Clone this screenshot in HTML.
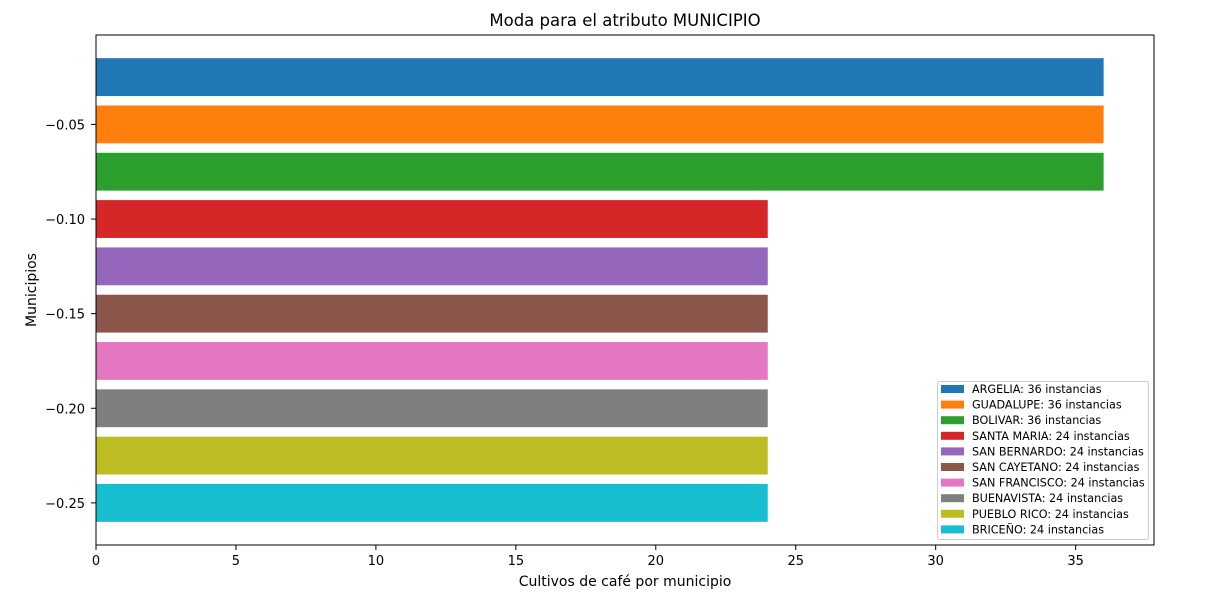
<!DOCTYPE html>
<html><head><meta charset="utf-8"><style>
body{margin:0;background:#fff;font-family:"Liberation Sans","DejaVu Sans",sans-serif;}
svg text{font-family:"DejaVu Sans","Liberation Sans",sans-serif;}
</style></head><body>
<svg id="chart" width="1205" height="602" xmlns="http://www.w3.org/2000/svg">
<rect width="1205" height="602" fill="#fff"/>
</svg>
<script>
const categories=["ARGELIA","GUADALUPE","BOLIVAR","SANTA MARIA","SAN BERNARDO","SAN CAYETANO","SAN FRANCISCO","BUENAVISTA","PUEBLO RICO","BRICEÑO"];
const values=[36,36,36,24,24,24,24,24,24,24];
const positions=[-0.025,-0.05,-0.075,-0.1,-0.125,-0.15,-0.175,-0.2,-0.225,-0.25];
const colors=["#1f77b4","#ff7f0e","#2ca02c","#d62728","#9467bd","#8c564b","#e377c2","#7f7f7f","#bcbd22","#17becf"];
const xTicks=[0,5,10,15,20,25,30,35];
const yTicks=[-0.05,-0.10,-0.15,-0.20,-0.25];
const yTickLabels=["\u22120.05","\u22120.10","\u22120.15","\u22120.20","\u22120.25"];

const L=96,R=1154,T=35,B=545;
const xMax=37.8,yTop=-0.00275,yBot=-0.27225,barH=0.02;
const sx=v=>L+(v/xMax)*(R-L);
const sy=v=>T+(yTop-v)/(yTop-yBot)*(B-T);
const svg=document.getElementById('chart');
const NS="http://www.w3.org/2000/svg";
function mk(tag,attrs,parent){const e=document.createElementNS(NS,tag);for(const k in attrs)e.setAttribute(k,attrs[k]);(parent||svg).appendChild(e);return e;}

categories.forEach((c,i)=>{
  const y1=sy(positions[i]+barH/2),y2=sy(positions[i]-barH/2);
  const r=mk('rect',{x:sx(0),y:y1,width:sx(values[i])-sx(0),height:y2-y1,fill:colors[i]});
  
  
});
const frame=mk('rect',{x:L,y:T,width:R-L,height:B-T,fill:'none',stroke:'#000','stroke-width':1});



xTicks.forEach(t=>{
  const x=sx(t);
  mk('line',{x1:x,x2:x,y1:B,y2:B+5,stroke:'#000'});
  const tx=mk('text',{x:x,y:B+20,'font-size':13,'text-anchor':'middle'});tx.textContent=t;
  
  
});
yTicks.forEach((t,i)=>{
  const y=sy(t);
  mk('line',{x1:L-5,x2:L,y1:y,y2:y,stroke:'#000'});
  const tx=mk('text',{x:L-11,y:y+5,'font-size':13,'text-anchor':'end'});tx.textContent=yTickLabels[i];
  
  
});
const title=mk('text',{x:(L+R)/2,y:26,'font-size':16.5,'text-anchor':'middle'});title.textContent='Moda para el atributo MUNICIPIO';


const xt=mk('text',{x:(L+R)/2,y:586,'font-size':14,'text-anchor':'middle'});xt.textContent='Cultivos de café por municipio';


const yt=mk('text',{x:36,y:(T+B)/2,'font-size':14,'text-anchor':'middle',transform:`rotate(-90 36 ${(T+B)/2})`});yt.textContent='Municipios';



const lg=mk('g',{});


mk('rect',{x:937.5,y:381.5,width:211,height:158,rx:2,fill:'#fff','fill-opacity':0.8,stroke:'#ccc'},lg);
categories.forEach((c,i)=>{
  const y=389+i*15.6;
  const g=mk('g',{},lg);
  
  
  mk('rect',{x:941,y:y-4,width:23,height:8,fill:colors[i]},g);
  const t=mk('text',{x:972,y:y+4,'font-size':11.2},g);t.textContent=c+': '+values[i]+' instancias';
});
</script>
</body></html>
